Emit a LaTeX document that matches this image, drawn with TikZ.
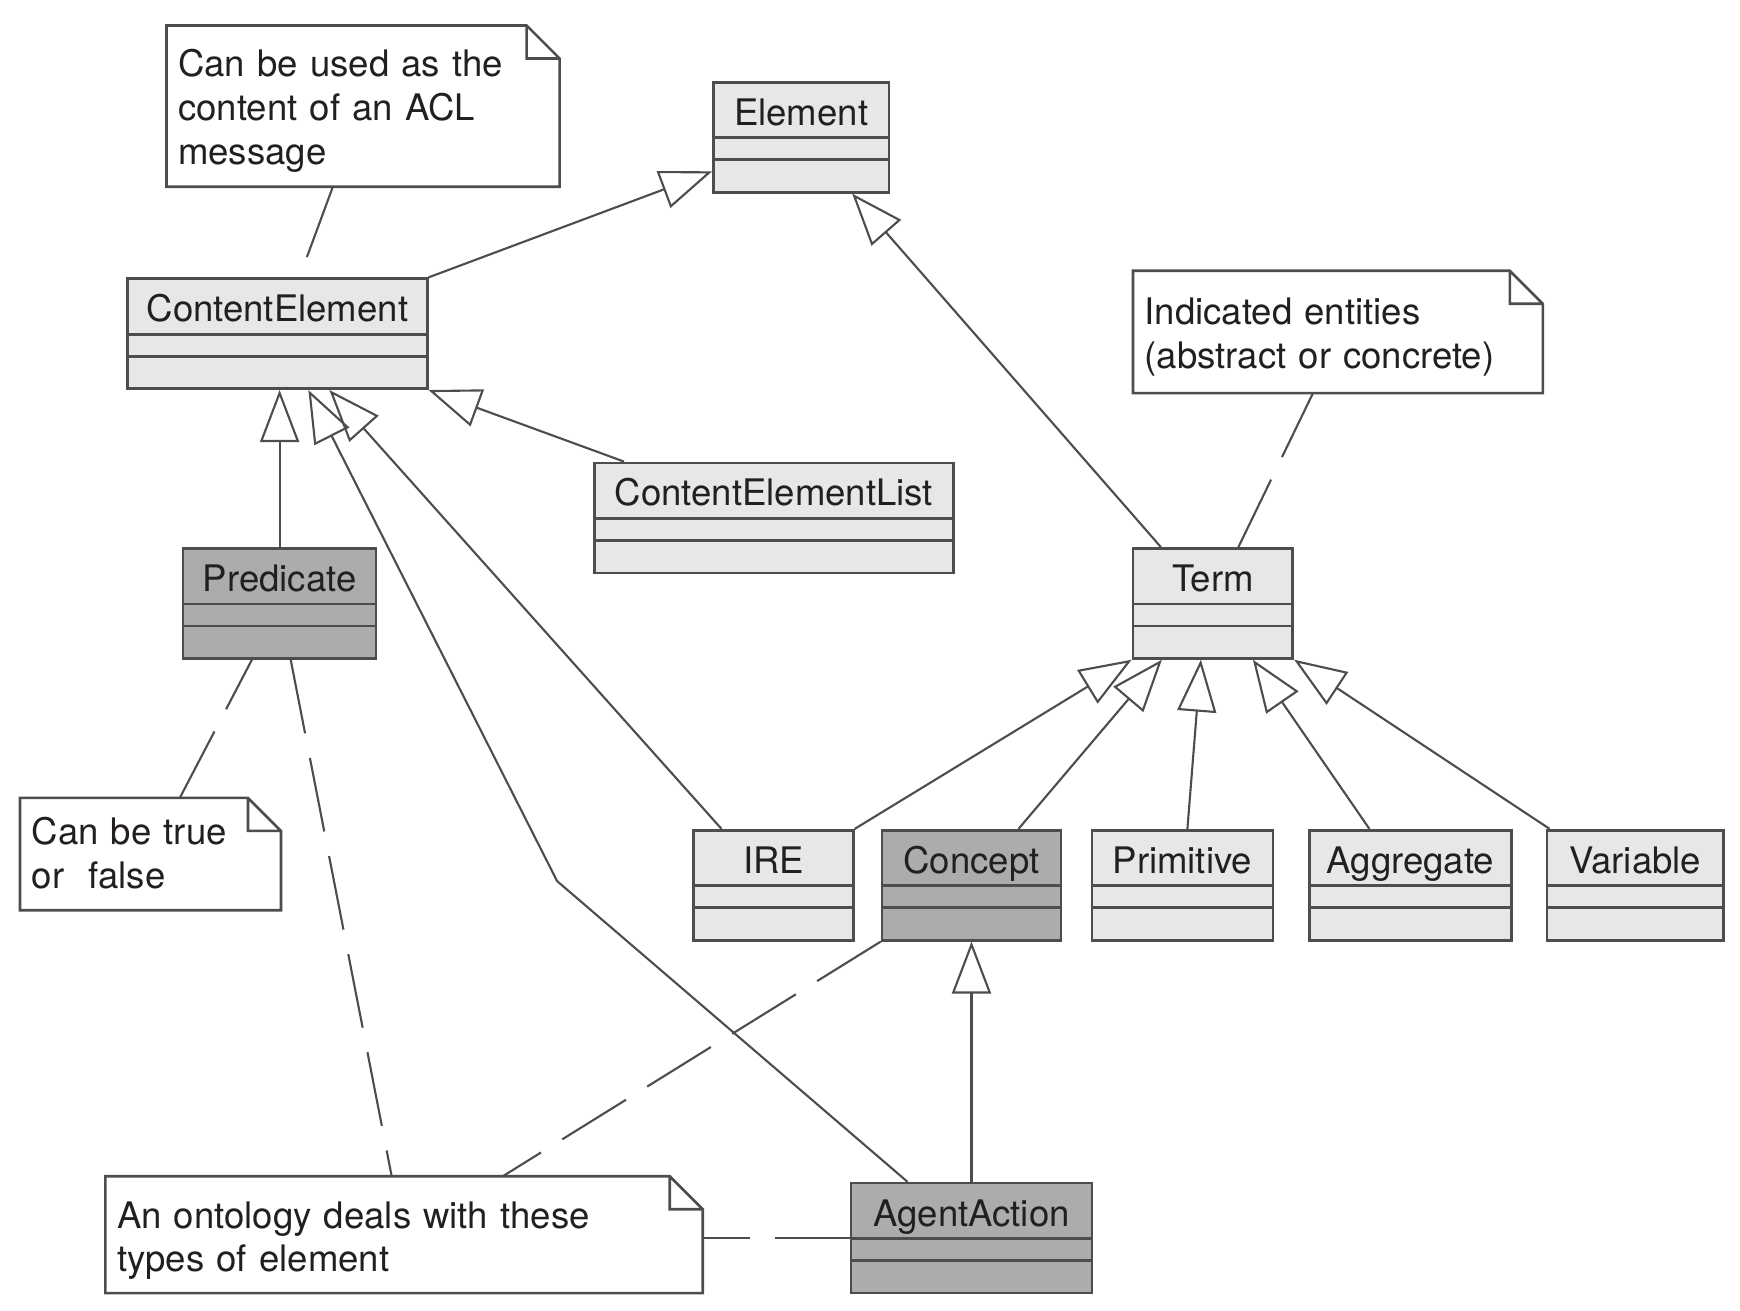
\documentclass[tikz,border=0pt]{standalone}
\usepackage{fontspec}
\setmainfont{TeX Gyre Heros}
\usetikzlibrary{arrows.meta}
\definecolor{linec}{HTML}{4D4D4F}
\definecolor{lightc}{HTML}{E6E7E8}
\definecolor{darkc}{HTML}{ABACAE}
\definecolor{textc}{HTML}{231F20}
\tikzset{
  umlclass/.style={draw=linec,line width=0.75pt,fill=lightc,anchor=north,text=textc,
    inner xsep=0pt,inner ysep=0pt,text height=0.43cm,text depth=0.67cm,
    path picture={\draw[linec,line width=0.75pt]
      ([yshift=-0.555cm]path picture bounding box.north west) -- ([yshift=-0.555cm]path picture bounding box.north east)
      ([yshift=-0.775cm]path picture bounding box.north west) -- ([yshift=-0.775cm]path picture bounding box.north east);}},
  darkclass/.style={umlclass,fill=darkc},
  umlnote/.style={anchor=north west,align=left,text=textc,inner xsep=0.11cm,inner ysep=0pt},
  noteline/.style={draw=linec,line width=0.75pt},
  isa/.style={draw=linec,line width=0.6pt,-{Triangle[open,length=5.2mm,width=3.9mm]}},
  anchorline/.style={draw=linec,line width=0.6pt,dash pattern=on 0.75cm off 0.25cm}
}
\begin{document}
\begin{tikzpicture}[x=1cm,y=1cm,font=\fontsize{10.4pt}{12.5pt}\selectfont]
  \useasboundingbox (0,0) rectangle (17.4,13.1);
  % classes
  \node[umlclass,minimum width=1.754cm] (element) at (8.012,12.290) {Element};
  \node[umlclass,minimum width=2.996cm] (content) at (2.774,10.326) {ContentElement};
  \node[darkclass,minimum width=1.931cm] (pred) at (2.796,7.629) {Predicate};
  \node[umlclass,minimum width=3.584cm] (celist) at (7.740,8.484) {ContentElementList};
  \node[umlclass,minimum width=1.598cm] (term) at (12.129,7.629) {Term};
  \node[umlclass,minimum width=1.598cm] (ire) at (7.735,4.811) {IRE};
  \node[darkclass,minimum width=1.787cm] (concept) at (9.715,4.811) {Concept};
  \node[umlclass,minimum width=1.809cm] (prim) at (11.824,4.811) {Primitive};
  \node[umlclass,minimum width=2.020cm] (aggr) at (14.104,4.811) {Aggregate};
  \node[umlclass,minimum width=1.765cm] (var) at (16.352,4.811) {Variable};
  \node[darkclass,minimum width=2.408cm] (action) at (9.715,1.282) {AgentAction};
  % notes
  \node[umlnote,text width=3.697cm,text height=0.50cm,text depth=1.098cm] (nacl) at (1.665,12.845)
    {Can be used as the\\content of an ACL\\message};
  \node[umlnote,text width=3.864cm,text height=0.53cm,text depth=0.679cm] (nterm) at (11.330,10.392)
    {Indicated entities\\(abstract or concrete)};
  \node[umlnote,text width=2.376cm,text height=0.46cm,text depth=0.649cm] (npred) at (0.200,5.121)
    {Can be true\\or\ \ false};
  \node[umlnote,text width=5.739cm,text height=0.51cm,text depth=0.644cm] (nonto) at (1.054,1.337)
    {An ontology deals with these\\types of element};
  \foreach \n in {nacl,nterm,npred,nonto}
    \draw[noteline] (\n.north west) -- ([xshift=-0.33cm]\n.north east) -- ([yshift=-0.33cm]\n.north east)
      -- (\n.south east) -- (\n.south west) -- cycle
      ([xshift=-0.33cm]\n.north east) |- ([yshift=-0.33cm]\n.north east);
  % generalisations
  \draw[isa] (content.north east) -- ([yshift=-0.34cm]element.west);
  \draw[isa] ([xshift=-0.52cm]term.north) -- ([xshift=0.51cm]element.south);
  \draw[isa] (pred.north) -- (pred.north |- content.south);
  \draw[isa] ([xshift=-0.64cm]action.north) -- (5.571,4.289) -- ([xshift=0.31cm]content.south);
  \draw[isa] ([xshift=-0.52cm]ire.north) -- ([xshift=0.52cm]content.south);
  \draw[isa] ([xshift=-1.50cm]celist.north) -- (content.south east);
  \draw[isa] (ire.north east) -- (term.south west);
  \draw[isa] ([xshift=0.47cm]concept.north) -- ([xshift=-0.51cm]term.south);
  \draw[isa] ([xshift=0.05cm]prim.north) -- ([xshift=-0.12cm]term.south);
  \draw[isa] ([xshift=-0.41cm]aggr.north) -- ([xshift=0.40cm]term.south);
  \draw[isa] ([xshift=0.04cm]var.north west) -- (term.south east);
  \draw[isa] (action.north) -- (concept.south);
  % note anchors
  \draw[anchorline] ([xshift=1.664cm]nacl.south west) -- ([xshift=0.22cm]content.north);
  \draw[anchorline] ([xshift=0.255cm]term.north) -- ([xshift=1.80cm]nterm.south west);
  \draw[anchorline] ([xshift=1.598cm]npred.north west) -- ([xshift=-0.277cm]pred.south);
  \draw[anchorline] ([xshift=0.111cm]pred.south) -- ([xshift=2.863cm]nonto.north west);
  \draw[anchorline] (concept.south west) -- ([xshift=3.973cm]nonto.north west);
  \draw[anchorline] (action.west) -- (action.west -| nonto.east);
\end{tikzpicture}
\end{document}
